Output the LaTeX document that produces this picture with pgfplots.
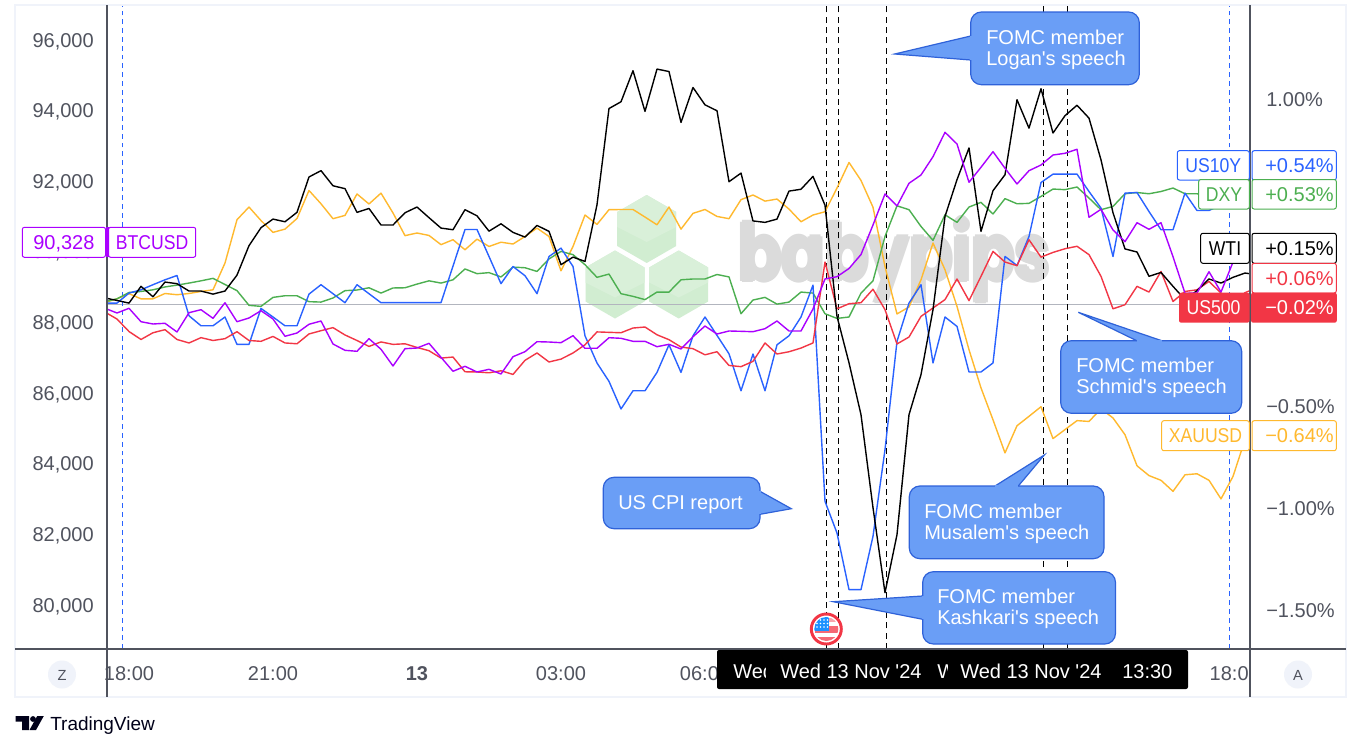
\documentclass[border=0pt]{standalone}
\usepackage{fontspec}
\usepackage{pgfplots}
\usepackage{pgfplotstable}
\pgfplotsset{compat=1.18}
\newfontfamily\lsf{Liberation Sans}
\newfontfamily\wmf{Poppins}
\newcommand\fs{\lsf\fontsize{15}{18}\selectfont}
\newcommand\nar[1]{\scalebox{0.88}[1]{#1}}
\definecolor{tvblue}{HTML}{2962FF}
\definecolor{tvgreen}{HTML}{4CAF50}
\definecolor{tvred}{HTML}{F23645}
\definecolor{tvyellow}{HTML}{FFB92E}
\definecolor{tvpurple}{HTML}{AA00FF}
\definecolor{tvtext}{HTML}{50535E}
\definecolor{tvframe}{HTML}{F0F3FA}
\definecolor{tvzero}{HTML}{B2B5BE}
\definecolor{calloutfill}{HTML}{6A9EF6}
\definecolor{calloutline}{HTML}{2F62D9}
\pgfplotstableread{
h wti us10y dxy us500 xau btc
17.50 0.030 0.005 0.012 -0.039 0.008 88402
17.75 0.018 0.005 0.026 -0.073 0.026 88269
18.00 0.005 0.054 0.057 -0.134 0.051 88402
18.25 0.087 0.070 0.062 -0.173 0.026 88022
18.50 0.036 0.095 0.070 -0.140 0.026 87957
18.75 0.108 0.119 0.084 -0.125 0.052 87977
19.00 0.100 0.140 0.093 -0.173 0.046 87731
19.25 0.064 -0.057 0.103 -0.190 0.052 88277
19.50 0.064 -0.106 0.114 -0.164 0.062 88362
19.75 0.049 -0.106 0.126 -0.178 0.070 88118
20.00 0.064 -0.063 0.096 -0.169 0.201 88560
20.25 0.142 -0.197 0.066 -0.135 0.413 88022
20.50 0.286 -0.197 -0.006 -0.178 0.475 88127
20.75 0.374 -0.021 -0.011 -0.182 0.409 88334
21.00 0.416 -0.063 0.033 -0.158 0.351 88099
21.25 0.403 -0.106 0.041 -0.190 0.367 87609
21.50 0.449 -0.106 0.041 -0.194 0.419 87702
21.75 0.622 0.049 0.012 -0.146 0.556 87949
22.00 0.653 0.095 0.010 -0.130 0.491 88042
22.25 0.579 0.051 0.030 -0.115 0.418 87391
22.50 0.565 0.007 0.066 -0.151 0.434 87212
22.75 0.449 0.095 0.069 -0.178 0.539 87184
23.00 0.468 0.051 0.080 -0.207 0.490 87541
23.25 0.387 0.007 0.054 -0.185 0.543 87241
23.50 0.387 0.007 0.079 -0.197 0.446 86768
23.75 0.447 0.007 0.080 -0.194 0.335 87258
24.00 0.475 0.007 0.098 -0.212 0.348 87277
24.25 0.423 0.007 0.114 -0.228 0.336 87410
24.50 0.372 0.007 0.103 -0.264 0.291 87014
24.75 0.364 0.186 0.119 -0.259 0.315 86618
25.00 0.462 0.365 0.172 -0.331 0.266 86759
25.25 0.432 0.365 0.149 -0.332 0.318 86598
25.50 0.357 0.233 0.154 -0.336 0.282 86674
25.75 0.393 0.100 0.133 -0.326 0.303 86541
26.00 0.351 0.184 0.181 -0.344 0.294 87031
26.25 0.328 0.139 0.178 -0.275 0.331 87173
26.50 0.385 0.051 0.160 -0.239 0.372 87456
26.75 0.356 0.233 0.221 -0.283 0.331 87447
27.00 0.193 0.274 0.258 -0.269 0.163 87428
27.25 0.230 0.184 0.242 -0.239 0.282 87626
27.50 0.209 -0.155 0.193 -0.199 0.436 87269
27.75 0.486 -0.288 0.131 -0.136 0.390 87269
28.00 0.957 -0.378 0.147 -0.138 0.462 87569
28.25 0.990 -0.513 0.051 -0.140 0.463 87552
28.50 1.142 -0.424 0.038 -0.117 0.463 87467
28.75 0.943 -0.424 0.022 -0.112 0.426 87467
29.00 1.150 -0.334 0.059 -0.150 0.388 87314
29.25 1.138 -0.199 0.059 -0.174 0.475 87382
29.50 0.889 -0.334 0.119 -0.210 0.367 87249
29.75 1.060 -0.155 0.123 -0.218 0.444 87597
30.00 0.975 -0.063 0.123 -0.248 0.463 87900
30.25 0.946 -0.153 0.145 -0.233 0.429 87674
30.50 0.599 -0.243 0.133 -0.300 0.418 87759
30.75 0.641 -0.424 -0.047 -0.306 0.511 87750
31.00 0.407 -0.244 0.020 -0.280 0.534 87739
31.25 0.400 -0.424 0.033 -0.190 0.504 87824
31.50 0.416 -0.199 0.000 -0.244 0.514 88042
31.75 0.553 -0.155 0.010 -0.233 0.465 87759
32.00 0.562 -0.063 0.059 -0.215 0.403 87759
32.25 0.625 0.093 0.054 -0.190 0.436 88382
32.50 0.484 -0.965 -0.047 0.206 0.452 89232
32.75 -0.060 -1.120 -0.070 -0.023 0.568 89297
33.00 -0.287 -1.397 -0.063 0.002 0.693 89529
33.25 -0.541 -1.397 0.054 0.007 0.605 89925
33.50 -0.996 -1.136 0.114 0.073 0.474 90761
33.75 -1.412 -0.712 0.331 -0.027 0.184 91639
34.00 -1.128 -0.182 0.481 -0.195 -0.048 91299
34.25 -0.541 0.005 0.462 -0.161 -0.014 91942
34.50 -0.345 0.095 0.380 -0.060 0.119 92177
34.75 -0.027 -0.288 0.312 -0.019 0.299 92695
35.00 0.429 -0.063 0.437 0.022 0.168 93386
35.25 0.609 -0.109 0.400 0.123 -0.011 93055
35.50 0.764 -0.332 0.475 0.017 -0.223 91970
35.75 0.356 -0.332 0.498 0.136 -0.410 92395
36.00 0.555 -0.288 0.441 0.258 -0.566 92837
36.25 0.633 0.233 0.516 0.206 -0.728 92367
36.50 1.000 0.189 0.491 0.188 -0.595 91922
36.75 0.861 0.331 0.493 0.315 -0.549 92299
37.00 1.054 0.595 0.527 0.230 -0.502 92460
37.25 0.837 0.636 0.563 0.253 -0.658 92743
37.50 0.922 0.636 0.560 0.271 -0.614 92791
37.75 0.973 0.636 0.573 0.283 -0.570 92905
38.00 0.910 0.551 0.519 0.242 -0.574 90979
38.25 0.706 0.470 0.462 0.136 -0.512 91205
38.50 0.447 0.233 0.478 -0.023 -0.557 90619
38.75 0.270 0.543 0.540 -0.003 -0.639 90288
39.00 0.255 0.546 0.546 0.087 -0.791 90826
39.25 0.136 0.453 0.540 0.059 -0.839 90639
39.50 0.155 0.364 0.551 0.160 -0.862 90826
39.75 0.087 0.364 0.568 0.013 -0.916 89863
40.00 0.022 0.543 0.540 0.062 -0.835 88827
40.25 0.066 0.458 0.540 0.070 -0.830 88835
40.50 0.123 0.458 0.530 0.111 -0.862 89438
40.75 0.103 0.486 0.530 0.054 -0.953 88863
41.00 0.131 0.525 0.530 0.007 -0.843 89713
41.25 0.152 0.540 0.530 0.056 -0.663 90336
41.50 0.144 0.540 0.530 0.080 -0.566 90328
}\chartdata
\tikzset{
  txt/.style={inner sep=0pt,text height=10.7pt,text depth=0pt,font=\fs},
  callout/.style={draw=calloutline,fill=calloutfill,line width=0.9pt,line join=round},
}
\newcommand\lab[6]{\draw[rounded corners=1.6pt,draw=#5,fill=white,line width=.75pt] (#1,#2) rectangle (#3,#4) node[midway,txt,text=#5] {#6};}
% box corners (x1,y1) (x2,y2), then base point, tip, base point
\newcommand\callout[5]{%
\draw[callout,rounded corners=8pt] (#1) rectangle (#2);
\fill[calloutfill] (#3)--(#4)--(#5)--cycle;
\draw[calloutline,line width=.9pt,line join=miter] (#3)--(#4)--(#5);
\draw[calloutfill,line width=1.6pt] (#3)--(#5);}
\newcommand\hex[2]{\begin{scope}[shift={(#1,#2)}]
\fill[green!60!black!18] (0,-34)--(29.5,-17)--(29.5,17)--(0,34)--(-29.5,17)--(-29.5,-17)--cycle;
\fill[green!60!black!15] (0,-34)--(29.5,-17)--(29.5,-2)--(0,13)--(-29.5,-2)--(-29.5,-17)--cycle;
\end{scope}}
\begin{document}
\begin{tikzpicture}[x=0.75pt,y=-0.75pt]
\path[use as bounding box,fill=white] (0,0) rectangle (1361,750);
% frame
\draw[tvframe,line width=1.5pt] (15,5) rectangle (1346,697);
% watermark
\hex{646.7}{229}\hex{615}{284.5}\hex{678.7}{284.5}
\foreach \dx/\dy in {0/0,-2/0,2/0,0/-1.5,0/1.5}
  \node[inner sep=0pt,anchor=base west,text=black!14] at (738+\dx,281+\dy) {\scalebox{0.8}[1]{\wmf\bfseries\fontsize{60}{60}\selectfont babypips}};
% zero line
\draw[draw=tvzero,line width=.75pt] (107,304.4) -- (1250,304.4);
% verticals
\foreach \x in {826.7,838.3,886.7,1043.3,1067.7} \draw[black,line width=.75pt,dash pattern=on 4.5pt off 3.2pt] (\x,649) -- (\x,6);
\foreach \x in {122.3,1229.3} \draw[tvblue,line width=.65pt,dash pattern=on 3.6pt off 3pt] (\x,649) -- (\x,6);
% percent axis
\begin{axis}[at={(80.25pt,-486.75pt)},anchor=south west,scale only axis,width=857.25pt,height=483pt,
  xmin=17.5417,xmax=41.3542,ymin=-1.6874,ymax=1.4635,
  axis y line*=right,axis x line*=bottom,axis line style={draw=none},
  major tick length=0pt,
  xtick={18,21,24,27,30,40.92},
  xticklabels={18:00,21:00,\textbf{13},03:00,06:00,18:0},
  ytick={-1.5,-1,-0.5,1},
  yticklabels={−1.50\%,−1.00\%,−0.50\%,1.00\%},
  tick label style={font=\fs,text=tvtext},
  xticklabel style={inner sep=0pt,anchor=center,yshift=-18.5pt,text height=10.7pt,text depth=0pt},
  yticklabel style={inner sep=0pt,anchor=west,xshift=12pt,text height=10.7pt,text depth=0pt},
  every axis plot/.style={line width=1.05pt,line join=round,no markers}]
\addplot[tvyellow] table[x=h,y=xau] {\chartdata};
\addplot[tvgreen] table[x=h,y=dxy] {\chartdata};
\addplot[tvblue] table[x=h,y=us10y] {\chartdata};
\addplot[tvred] table[x=h,y=us500] {\chartdata};
\addplot[black] table[x=h,y=wti] {\chartdata};
\end{axis}
% price axis
\begin{axis}[at={(80.25pt,-486.75pt)},anchor=south west,scale only axis,width=857.25pt,height=483pt,
  xmin=17.5417,xmax=41.3542,ymin=78753,ymax=96991,
  axis y line*=left,axis x line=none,axis line style={draw=none},
  major tick length=0pt,
  scaled y ticks=false,
  ytick={80000,82000,84000,86000,88000,90000,92000,94000,96000},
  yticklabels={{80,000},{82,000},{84,000},{86,000},{88,000},{90,000},{92,000},{94,000},{96,000}},
  tick label style={font=\fs,text=tvtext},
  yticklabel style={inner sep=0pt,anchor=east,xshift=-9.75pt,text height=10.7pt,text depth=0pt},
  every axis plot/.style={line width=1.05pt,line join=round,no markers}]
\addplot[tvpurple] table[x=h,y=btc] {\chartdata};
\end{axis}
% axis rules
\draw[tvtext,line width=.8pt] (15,649) -- (1346,649);
\draw[tvtext,line width=.8pt] (107,5) -- (107,697);
\draw[tvtext,line width=.8pt] (1250,5) -- (1250,697);
% callouts
\callout{970.7,12}{1139.3,84.7}{970.7,60}{894.7,54}{970.7,36}
\node[txt,anchor=west,text=white] at (986,37) {FOMC member};
\node[txt,anchor=west,text=white] at (986,58) {Logan's speech};
\callout{1060.7,340.7}{1241.7,413.3}{1136.7,340.7}{1078.3,312.3}{1161.7,340.7}
\node[txt,anchor=west,text=white] at (1076,365) {FOMC member};
\node[txt,anchor=west,text=white] at (1076,386) {Schmid's speech};
\callout{909.3,486}{1104,558.7}{995,486}{1044.3,455}{1018.3,486}
\node[txt,anchor=west,text=white] at (924,511) {FOMC member};
\node[txt,anchor=west,text=white] at (924,532) {Musalem's speech};
\callout{922.7,571.7}{1115.5,644}{922.7,619.3}{833.3,601.7}{922.7,596}
\node[txt,anchor=west,text=white] at (937,596) {FOMC member};
\node[txt,anchor=west,text=white] at (937,617) {Kashkari's speech};
\callout{603.3,477.3}{760,528.7}{760,491.3}{791.3,508.7}{760,514.3}
\node[txt,anchor=west,text=white] at (618,502) {US CPI report};
% labels, right
\lab{1252}{150.7}{1336.3}{180}{tvblue}{}
\node[txt,anchor=west,text=tvblue] at (1265,165.5) {+0.54\%};
\lab{1177.3}{150.7}{1249.3}{180}{tvblue}{\nar{US10Y}}
\lab{1252}{179.5}{1336.3}{209}{tvgreen}{}
\node[txt,anchor=west,text=tvgreen] at (1265,194.5) {+0.53\%};
\lab{1198.7}{179.5}{1249.3}{209}{tvgreen}{\nar{DXY}}
\lab{1252}{233.3}{1336.3}{263.3}{black}{}
\node[txt,anchor=west,text=black] at (1265,248.5) {+0.15\%};
\lab{1200.7}{233.3}{1249.3}{263.3}{black}{\nar{WTI}}
\lab{1252}{263.3}{1336.3}{293}{tvred}{}
\node[txt,anchor=west,text=tvred] at (1265,278.5) {+0.06\%};
\fill[tvred,rounded corners=1.6pt] (1179,292.7) rectangle (1249.5,322.7);
\fill[tvred,rounded corners=1.6pt] (1251,292.7) rectangle (1336.8,322.7);
\node[txt,text=white] at (1213.5,307.5) {\nar{US500}};
\node[txt,anchor=west,text=white] at (1265,307.5) {−0.02\%};
\lab{1252}{420.7}{1336.3}{450.7}{tvyellow}{}
\node[txt,anchor=west,text=tvyellow] at (1265,435.5) {−0.64\%};
\lab{1161.7}{420.7}{1249.3}{450.7}{tvyellow}{\nar{XAUUSD}}
% labels, left
\lab{22.3}{227.3}{105.5}{257.3}{tvpurple}{90,328}
\lab{108.5}{227.3}{195.7}{257.3}{tvpurple}{\nar{BTCUSD}}
\fill[tvpurple] (105.5,227.3) rectangle (108.5,257.3);
% time strip
\fill[black,rounded corners=1.5pt] (717,650) rectangle (1188,689);
\begin{scope}\clip (717,650) rectangle (765,689);
\node[txt,anchor=west,text=white] at (733,671.5) {Wed 13 Nov '24};
\end{scope}
\node[txt,anchor=west,text=white] at (780,671.5) {Wed 13 Nov '24};
\begin{scope}\clip (930,650) rectangle (947,689);
\node[txt,anchor=west,text=white] at (937,671.5) {Wed 13 Nov '24};
\end{scope}
\node[txt,anchor=west,text=white] at (960,671.5) {Wed 13 Nov '24};
\node[txt,anchor=west,text=white] at (1122,671.5) {13:30};
% round buttons
\fill[tvframe] (62,674.5) circle (14);
\node[inner sep=0pt,text=tvtext,font=\lsf\fontsize{11}{13}\selectfont] at (62,675) {Z};
\fill[tvframe] (1298,674.5) circle (14);
\node[inner sep=0pt,text=tvtext,font=\lsf\fontsize{11}{13}\selectfont] at (1298,675) {A};
% flag
\fill[white] (826.3,629) circle (15.5);
\begin{scope}\clip (826.3,629) circle (12);
\fill[tvred!75!white] (815,626) rectangle (840,632.5);
\fill[tvred!75!white] (812,637) rectangle (840,642);
\fill[tvred!45!white] (829,618) rectangle (840,621.5);
\fill[tvblue!70!cyan] (813,617) rectangle (829.3,630.5);
\foreach \a in {817,820.5,824,827.5} \foreach \b in {620,623.5,627} \fill[white] (\a,\b) circle (0.9);
\end{scope}
\draw[tvred,line width=2.2pt] (826.3,629) circle (15);
% brand
\fill[black!90!blue] (15.6,716) -- (29,716) -- (29,730) -- (22,730) -- (22,721.5) -- (15.6,721.5) -- cycle;
\fill[black!90!blue] (33,719) circle (2.9);
\fill[black!90!blue] (37.2,716) -- (43.8,716) -- (36,730) -- (29.5,730) -- cycle;
\node[inner sep=0pt,anchor=base west,text=black!90!blue,font=\lsf\fontsize{14.25}{16}\selectfont] at (50,730) {TradingView};
\end{tikzpicture}
\end{document}
